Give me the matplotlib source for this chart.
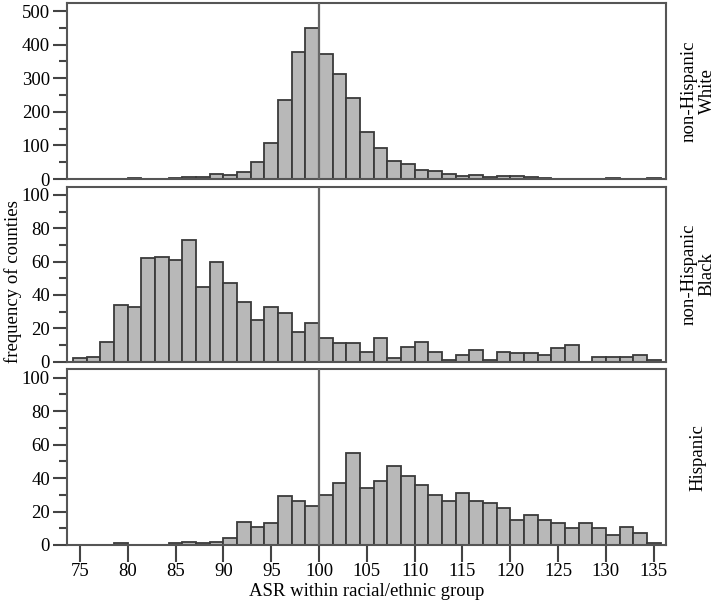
import matplotlib
matplotlib.use("Agg")
import matplotlib.pyplot as plt
import numpy as np
from matplotlib.ticker import MultipleLocator

plt.rcParams['font.family'] = ['Liberation Serif', 'DejaVu Serif']

# bins: width ~1.43, one edge sits on 100
bin_edges = 100 + 1.43 * np.arange(-18, 26)

white = [0, 0, 0, 1, 3, 1, 1, 2, 5, 5, 14, 12, 22, 50, 107, 235, 377, 451,
         372, 312, 242, 141, 93, 53, 45, 27, 23, 15, 9, 12, 6, 8, 8, 5, 2,
         1, 1, 1, 0, 2, 1, 1, 2]
black = [2, 3, 12, 34, 33, 62, 63, 61, 73, 45, 60, 47, 36, 25, 33, 29, 18, 23,
         14, 11, 11, 6, 14, 2, 9, 12, 6, 1, 4, 7, 1, 6, 5, 5, 4, 8,
         10, 0, 3, 3, 3, 4, 1]
hispanic = [0, 0, 0, 1, 0, 0, 0, 1, 2, 1, 2, 4, 14, 11, 13, 29, 26, 23,
            30, 37, 55, 34, 38, 47, 41, 36, 30, 26, 31, 26, 25, 22, 15, 18, 15, 13,
            10, 13, 10, 6, 11, 7, 1]

groups = ["non-Hispanic\nWhite", "non-Hispanic\nBlack", "Hispanic"]
series = [white, black, hispanic]
xticks = list(range(75, 136, 5))

fig = plt.figure(figsize=(7.17, 6.05), dpi=100)
boxes = [(0.093, 0.7041, 0.836, 0.2914),
         (0.093, 0.4022, 0.836, 0.2893),
         (0.093, 0.0992, 0.836, 0.2904)]

for i, (box, counts, name) in enumerate(zip(boxes, series, groups)):
    ax = fig.add_axes(box)
    ax.bar(bin_edges[:-1], counts, width=np.diff(bin_edges), align='edge',
           color='#b8b8b8', edgecolor='#3a3a3a', linewidth=1.3, zorder=2)
    ax.axvline(100, color='#666666', lw=1.6, zorder=3)
    ax.set_xlim(73.6, 136.3)
    if i == 0:
        ax.set_ylim(0, 525)
        ax.yaxis.set_major_locator(MultipleLocator(100))
        ax.yaxis.set_minor_locator(MultipleLocator(50))
    else:
        ax.set_ylim(0, 105)
        ax.yaxis.set_major_locator(MultipleLocator(20))
        ax.yaxis.set_minor_locator(MultipleLocator(10))
    for sp in ax.spines.values():
        sp.set_color('#555555')
        sp.set_linewidth(1.5)
    ax.tick_params(axis='y', which='major', length=10, width=1.5, color='#444444',
                   labelsize=13.5, pad=2)
    ax.tick_params(axis='y', which='minor', length=6, width=1.5, color='#444444')
    if i == 2:
        ax.set_xticks(xticks)
        ax.tick_params(axis='x', length=12, width=1.5, color='#444444',
                       labelsize=13.5, pad=1)
        ax.set_xlabel("ASR within racial/ethnic group", fontsize=13.5, labelpad=2)
    else:
        ax.set_xticks([])
    ax.text(1.053, 0.5, name, transform=ax.transAxes, rotation=90,
            ha='center', va='center', fontsize=13.5, linespacing=1.1)

fig.text(0.018, 0.535, "frequency of counties", rotation=90,
         ha='center', va='center', fontsize=13.5)

fig.savefig("out.png", dpi=100)
